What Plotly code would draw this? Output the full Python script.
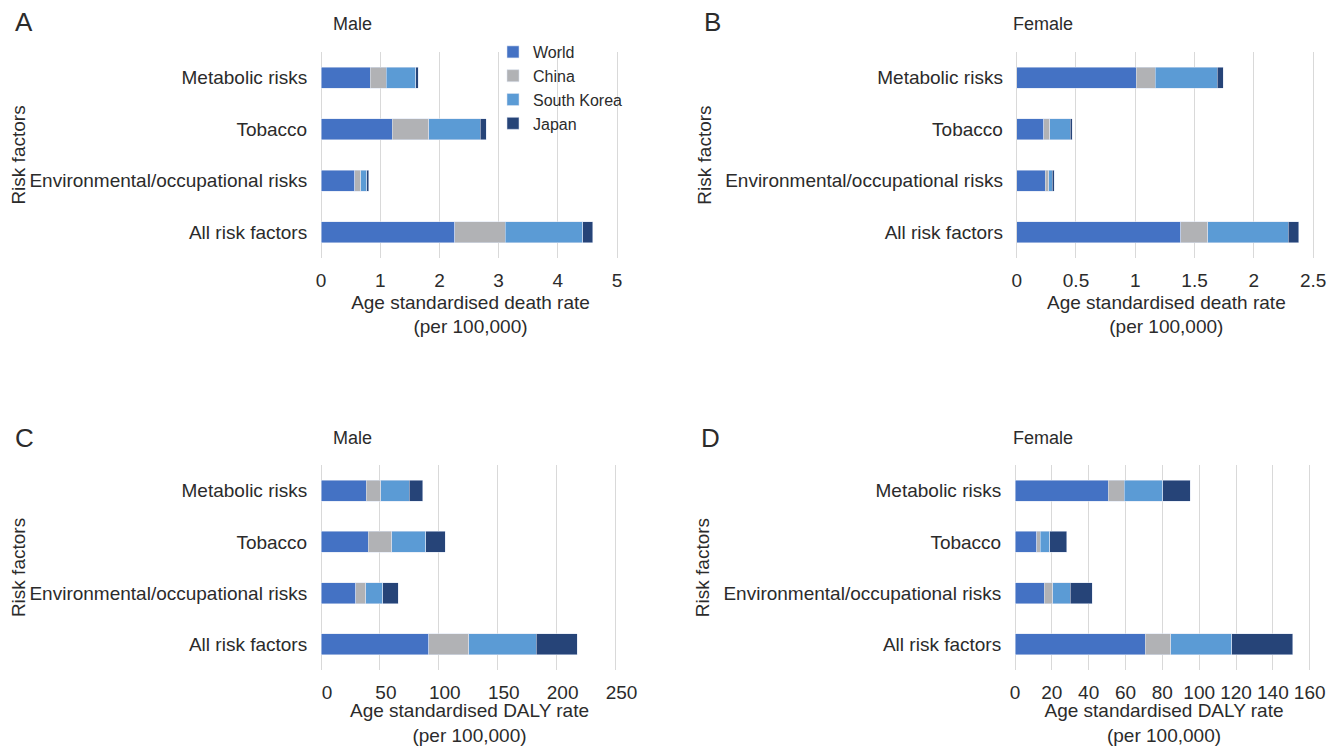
import plotly.graph_objects as go

categories = ["Metabolic risks", "Tobacco", "Environmental/occupational risks", "All risk factors"]
series_names = ["World", "China", "South Korea", "Japan"]
colors = ["#4472C4", "#B1B2B5", "#5B9BD5", "#264478"]

# Panel A: male, age standardised death rate
a_world = [0.83, 1.20, 0.57, 2.26]
a_china = [0.27, 0.62, 0.10, 0.85]
a_korea = [0.50, 0.87, 0.10, 1.31]
a_japan = [0.04, 0.10, 0.035, 0.17]

# Panel B: female, age standardised death rate
b_world = [1.01, 0.23, 0.24, 1.385]
b_china = [0.16, 0.05, 0.03, 0.225]
b_korea = [0.52, 0.17, 0.03, 0.68]
b_japan = [0.05, 0.02, 0.015, 0.09]

# Panel C: male, age standardised DALY rate
c_world = [38.2, 39.9, 29.7, 91.4]
c_china = [12.7, 20.1, 8.2, 34.2]
c_korea = [23.8, 28.8, 14.4, 56.9]
c_japan = [11.6, 16.5, 13.3, 34.8]

# Panel D: female, age standardised DALY rate
d_world = [50.5, 11.9, 15.9, 70.6]
d_china = [8.7, 1.9, 4.6, 13.9]
d_korea = [21.1, 5.2, 9.4, 33.1]
d_japan = [14.9, 9.2, 12.1, 33.2]

panels = [
    ("x", "y", [a_world, a_china, a_korea, a_japan]),
    ("x2", "y2", [b_world, b_china, b_korea, b_japan]),
    ("x3", "y3", [c_world, c_china, c_korea, c_japan]),
    ("x4", "y4", [d_world, d_china, d_korea, d_japan]),
]

# page body has an 8px margin; figure is sized to fit the 1339x746 window
OFF = 8
W, H = 1339 - OFF, 746 - OFF
FONT = "Liberation Sans, Arial, Helvetica, sans-serif"
TXT = "#2b2b2b"
GRID = "#D9D9D9"
FS = 19

fig = go.Figure()
for pi, (xa, ya, data) in enumerate(panels):
    for si, name in enumerate(series_names):
        fig.add_trace(go.Bar(
            x=data[si], y=categories, orientation="h", name=name,
            marker=dict(color=colors[si], line=dict(color="rgba(220,228,242,0.9)", width=0.6)),
            xaxis=xa, yaxis=ya, showlegend=(pi == 0),
            legendgroup=name,
        ))

def fx(p):
    return (p - OFF) / W

def fy(p):
    return 1 - (p - OFF) / H

def px_x(a, b):
    return [fx(a), fx(b)]

def px_y(top, bottom):
    return [fy(bottom), fy(top)]

xdefs = [
    dict(domain=px_x(321, 620), range=[0, 5.05], dtick=1, standoff=5,
         title="Age standardised death rate<br>(per 100,000)"),
    dict(domain=px_x(1016.7, 1316), range=[0, 2.524], dtick=0.5, standoff=5,
         title="Age standardised death rate<br>(per 100,000)"),
    dict(domain=px_x(321, 618), range=[0, 252.1], dtick=50, standoff=5,
         title="Age standardised DALY rate<br>(per 100,000)", ticklabelshift=6),
    dict(domain=px_x(1015, 1313), range=[0, 161.8], dtick=20, standoff=5,
         title="Age standardised DALY rate<br>(per 100,000)"),
]
ydoms = [px_y(52, 258), px_y(52, 258), px_y(465, 670), px_y(465, 670)]

layout = dict(
    width=W, height=H,
    margin=dict(l=0, r=0, t=0, b=0, autoexpand=False),
    paper_bgcolor="white", plot_bgcolor="white",
    barmode="stack", bargap=0.59,
    font=dict(family=FONT, size=FS, color=TXT),
    showlegend=True,
    legend=dict(x=fx(493), y=fy(35), xanchor="left", yanchor="top",
                font=dict(size=16, color=TXT), bgcolor="rgba(0,0,0,0)",
                tracegroupgap=5, itemwidth=30, traceorder="normal"),
)

for i in range(4):
    sfx = "" if i == 0 else str(i + 1)
    xd = xdefs[i]
    xax = dict(
        domain=xd["domain"], range=xd["range"], dtick=xd["dtick"], tick0=0,
        anchor="y" + sfx, showgrid=True, gridcolor=GRID, gridwidth=1,
        zeroline=True, zerolinecolor=GRID, zerolinewidth=1,
        showline=False, ticks="outside", ticklen=5, tickcolor="rgba(0,0,0,0)",
        tickfont=dict(size=FS, color=TXT), automargin=False,
        title=dict(text=xd["title"], font=dict(size=FS, color=TXT), standoff=xd["standoff"]),
        fixedrange=True,
    )
    if "ticklabelshift" in xd:
        xax["ticklabelshift"] = xd["ticklabelshift"]
    layout["xaxis" + sfx] = xax
    layout["yaxis" + sfx] = dict(
        domain=ydoms[i], anchor="x" + sfx, type="category",
        categoryorder="array", categoryarray=categories[::-1],
        showgrid=False, zeroline=False, showline=False,
        ticks="outside", ticklen=9, tickcolor="rgba(0,0,0,0)",
        tickfont=dict(size=FS, color=TXT), automargin=False,
        title=dict(text="Risk factors", font=dict(size=FS, color=TXT), standoff=8),
        fixedrange=True,
    )

annotations = []
for txt, x, y in [("A", 24, 22), ("B", 712, 22), ("C", 24, 438), ("D", 710, 438)]:
    annotations.append(dict(text=txt, x=fx(x), y=fy(y), xref="paper", yref="paper",
                            showarrow=False, xanchor="center", yanchor="middle",
                            font=dict(size=26, color=TXT)))
for txt, x, y in [("Male", 352, 24), ("Female", 1043, 24), ("Male", 352, 438), ("Female", 1043, 438)]:
    annotations.append(dict(text=txt, x=fx(x), y=fy(y), xref="paper", yref="paper",
                            showarrow=False, xanchor="center", yanchor="middle",
                            font=dict(size=18, color=TXT)))
layout["annotations"] = annotations

fig.update_layout(**layout)
fig.write_html("out.html")
